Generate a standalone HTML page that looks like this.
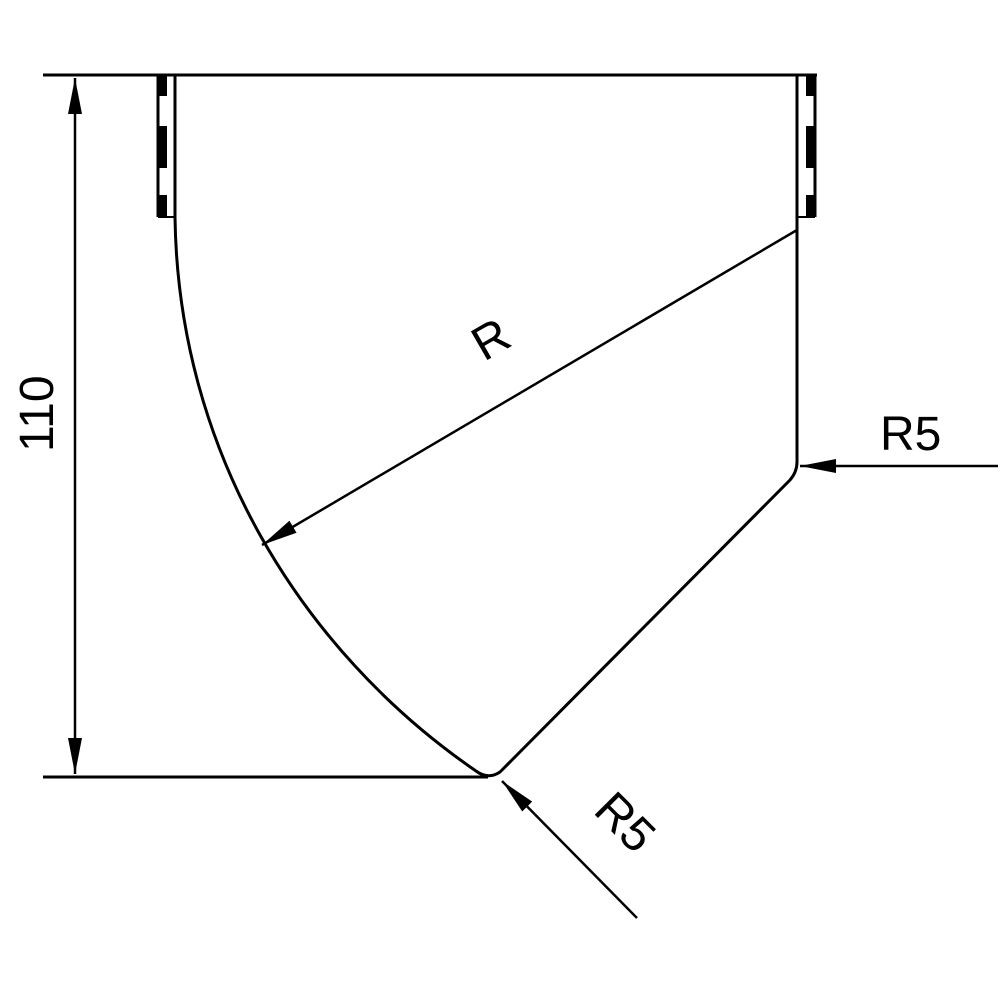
<!DOCTYPE html>
<html><head><style>body{margin:0;background:#fff}svg{display:block}</style></head><body>
<svg width="1000" height="1000" viewBox="0 0 1000 1000" xmlns="http://www.w3.org/2000/svg">
<defs>
<marker id="b" viewBox="0 0 36 14" refX="36" refY="7" markerWidth="36" markerHeight="14" markerUnits="userSpaceOnUse" orient="auto-start-reverse"><path d="M0,0 L36,7 L0,14 Z" fill="#000"/></marker>
</defs>
<g stroke="#000" fill="none" stroke-width="3">
<line x1="43" y1="75" x2="817" y2="75"/>
<line x1="43" y1="777" x2="488" y2="777"/>
<line x1="75" y1="78" x2="75" y2="774" stroke-width="2.5" marker-start="url(#b)" marker-end="url(#b)"/>
<path d="M175,75 L175,217 C178,450 300,650 476,771 Q488,780 500,772 L790,480 Q797,472 797,462 L797,75"/>
<line x1="158" y1="75" x2="158" y2="217" stroke-width="3"/>
<line x1="815" y1="75" x2="815" y2="217" stroke-width="3"/>
<line x1="158" y1="217" x2="175" y2="217" stroke-width="2"/>
<line x1="797" y1="217" x2="815" y2="217" stroke-width="2"/>
<line x1="797" y1="230" x2="262" y2="545" stroke-width="2.5" marker-end="url(#b)"/>
<line x1="998" y1="466" x2="800" y2="466" stroke-width="2.5" marker-end="url(#b)"/>
<line x1="637" y1="918" x2="502" y2="781" stroke-width="2.5" marker-end="url(#b)"/>
</g>
<g fill="#000">
<rect x="157" y="75" width="10" height="21"/><rect x="157" y="126" width="10" height="42"/><rect x="157" y="195" width="10" height="22"/>
<rect x="806" y="75" width="10" height="21"/><rect x="806" y="126" width="10" height="42"/><rect x="806" y="195" width="10" height="22"/>
</g>
<g font-family="Liberation Sans, sans-serif" font-size="48" fill="#000">
<text x="0" y="0" transform="translate(53,452) rotate(-90)">110</text>
<text x="0" y="0" transform="translate(484,362) rotate(-30)">R</text>
<text x="880" y="450">R5</text>
<text x="0" y="0" transform="translate(592,812) rotate(45)">R5</text>
</g>
</svg>
</body></html>
